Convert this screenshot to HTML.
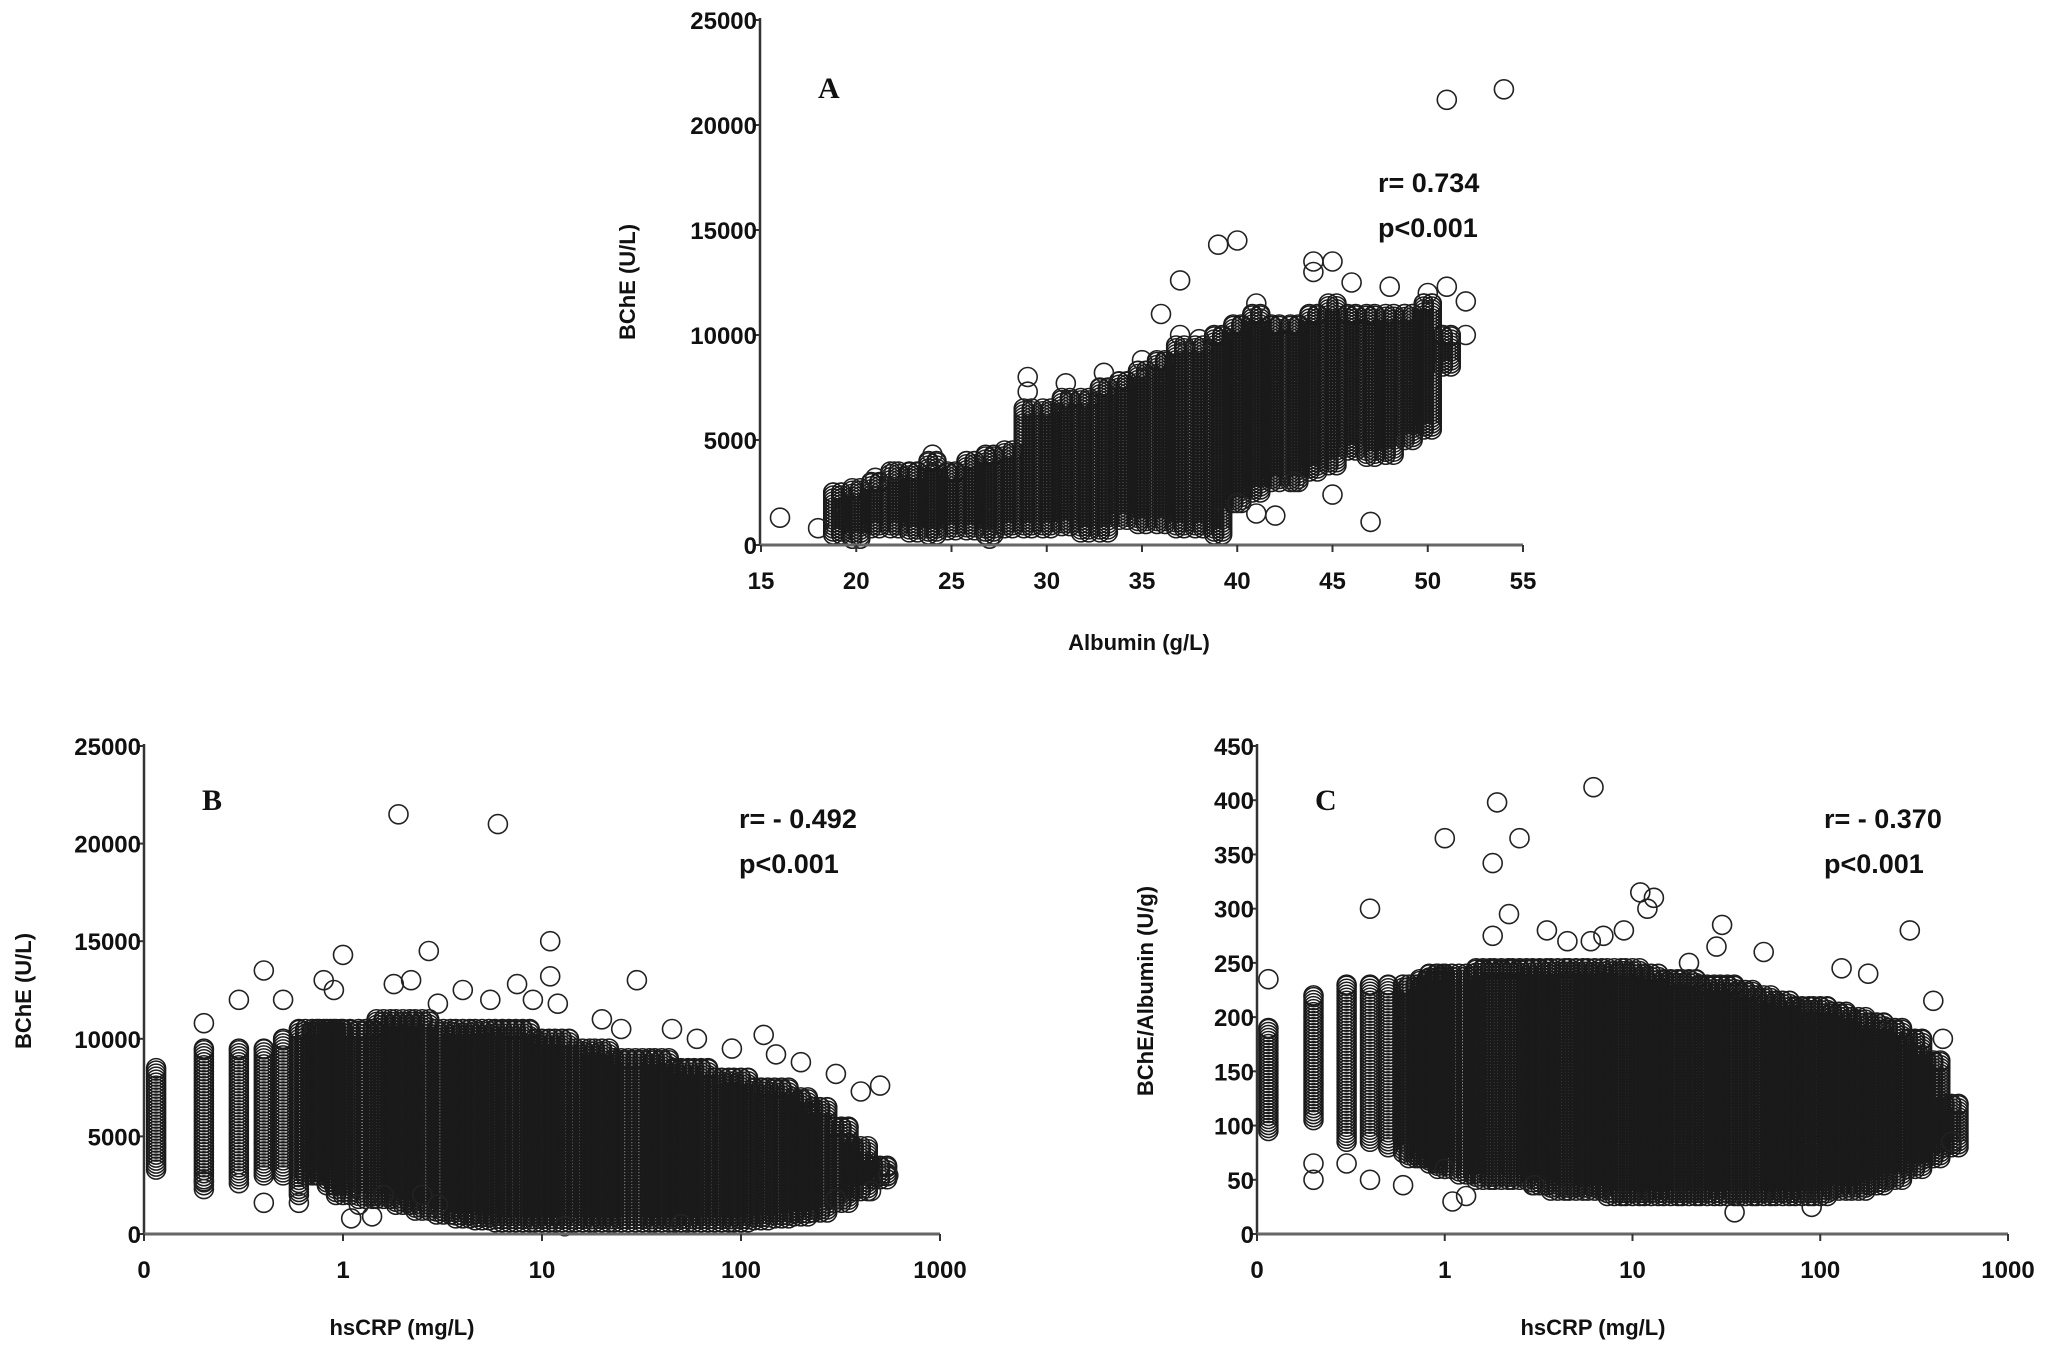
<!DOCTYPE html>
<html><head><meta charset="utf-8">
<style>
html,body{margin:0;padding:0;background:#fff;}
svg{display:block;}
.tk{font-family:"Liberation Sans Narrow","Liberation Sans",sans-serif;font-weight:bold;font-size:24px;fill:#111;}
.ti{font-family:"Liberation Sans",sans-serif;font-weight:bold;font-size:22px;fill:#111;}
.st{font-family:"Liberation Sans Narrow","Liberation Sans",sans-serif;font-weight:bold;font-size:27px;fill:#111;}
.pl{font-family:"Liberation Serif",serif;font-weight:bold;font-size:30px;fill:#111;}
</style></head>
<body>
<svg id="fig" width="2058" height="1348" viewBox="0 0 2058 1348" xmlns="http://www.w3.org/2000/svg">
<g id="marks"></g>
<g id="axes"></g>
</svg>
<script>
// ---- Panel A data: albumin bins with BChE min/max ----
const aX   = [19,20,21,22,23,24,25,26,27,28,29,30,31,32,33,34,35,36,37,38,39,40,41,42,43,44,45,46,47,48,49,50,51];
const aMin = [500,300,800,800,600,500,700,700,500,800,800,800,900,600,600,1200,1000,1000,800,800,500,2000,2500,3000,3000,3500,3800,4500,4200,4300,5000,5500,8500];
const aMax = [2500,2700,3000,3500,3500,4000,3500,4000,4300,4500,6500,6500,7000,7000,7500,7800,8300,8800,9500,9500,10000,10500,11000,10500,10500,11000,11500,11000,11000,11000,11000,11500,10000];
const aOutX = [16,18,51,54,39,40,37,36,47,45,42,52,52,27,29,29,31,33,35,37,38,41,44,44,45,46,48,50,51,21,22,24,40,41,43];
const aOutY = [1300,800,21200,21700,14300,14500,12600,11000,1100,2400,1400,11600,10000,300,8000,7300,7700,8200,8800,10000,9800,11500,13500,13000,13500,12500,12300,12000,12300,3200,3500,4300,2000,1500,3000];
const aXTicks = [15,20,25,30,35,40,45,50,55];
const aYTicks = [0,5000,10000,15000,20000,25000];

// ---- Panel B data: hsCRP bins with BChE min/max ----
const bX   = [0.115,0.2,0.3,0.4,0.5,0.6,0.7,0.8,0.9,1.0,1.3,1.6,2,2.5,3.2,4,5,6.3,8,10,12.6,16,20,25,32,40,50,63,80,100,126,160,200,250,320,400,500];
const bMin = [3300,2500,2800,3000,3000,2000,3000,3000,2500,2000,1800,1800,1500,1200,1000,800,700,600,600,600,600,600,600,600,600,600,600,600,600,600,700,800,900,1100,1600,2200,2800];
const bMax = [8500,9500,9500,9500,10000,10500,10500,10500,10500,10500,10500,11000,11000,11000,10500,10500,10500,10500,10500,10000,10000,9500,9500,9000,9000,9000,8500,8500,8000,8000,7500,7500,7000,6500,5500,4500,3500];
const bOutX = [1.9,6,11,2.7,1,0.4,30,11,130,500,300,200,1.1,1.4,0.2,0.2,0.3,0.4,0.5,0.6,0.8,0.9,1.8,2.2,3,4,5.5,7.5,9,12,20,25,45,60,90,150,400,450,550,0.2,0.3,1.2,1.6,2.5,3,13,50,300];
const bOutY = [21500,21000,15000,14500,14300,13500,13000,13200,10200,7600,8200,8800,800,900,10800,2300,12000,1600,12000,1600,13000,12500,12800,13000,11800,12500,12000,12800,12000,11800,11000,10500,10500,10000,9500,9200,7300,2200,3000,2700,2600,1500,2000,2000,1500,400,500,1800];
const bXTicks = [0.1,1,10,100,1000];
const bXLabels = ["0","1","10","100","1000"];
const bYTicks = [0,5000,10000,15000,20000,25000];

// ---- Panel C data: hsCRP bins with BChE/Albumin min/max ----
const cX   = [0.115,0.2,0.3,0.4,0.5,0.6,0.7,0.8,0.9,1,1.3,1.6,2,2.5,3.2,4,5,6.3,8,10,12.6,16,20,25,32,40,50,63,80,100,126,160,200,250,320,400,500];
const cMin = [95,105,85,85,80,75,70,70,65,60,55,50,50,50,45,40,40,40,35,35,35,35,35,35,35,35,35,35,35,35,40,40,45,50,60,70,80];
const cMax = [190,220,230,230,230,230,230,235,240,240,240,245,245,245,245,245,245,245,245,245,240,235,235,230,230,225,220,215,210,210,205,200,195,190,180,160,120];
const cOutX = [6.2,1.9,1,2.5,1.8,11,0.4,300,13,30,0.115,0.2,0.2,0.3,0.4,0.6,1,1.1,1.3,3,4.5,7,9,12,28,50,130,180,400,450,500,1.8,2.2,3.5,6,20,35,90];
const cOutY = [412,398,365,365,342,315,300,280,310,285,235,65,50,65,50,45,60,30,35,45,270,275,280,300,265,260,245,240,215,180,85,275,295,280,270,250,20,25];
const cXTicks = [0.1,1,10,100,1000];
const cXLabels = ["0","1","10","100","1000"];
const cYTicks = [0,50,100,150,200,250,300,350,400,450];

const NS = "http://www.w3.org/2000/svg";
const marks = document.getElementById('marks');
const axes = document.getElementById('axes');
function mk(tag, attrs, parent){const e=document.createElementNS(NS,tag);for(const k in attrs)e.setAttribute(k,attrs[k]);parent.appendChild(e);return e;}

function linX(x0,x1,p0,p1){return v=>p0+(v-x0)/(x1-x0)*(p1-p0);}
function logX(x0,x1,p0,p1){return v=>p0+(Math.log10(v)-Math.log10(x0))/(Math.log10(x1)-Math.log10(x0))*(p1-p0);}

function drawPanel(cfg){
  const {id,sx,sy,bins,mins,maxs,ox,oy,xt,xl,yt,ax0,ax1,ay0,ay1,colOff,discreteBelow} = cfg;
  const g = mk('g',{},marks);
  
  
  for(let i=0;i<bins.length;i++){
    const x = sx(bins[i]);
    const yTop = sy(maxs[i]), yBot = sy(mins[i]);
    const offs = (discreteBelow && bins[i] < discreteBelow) ? [0] : colOff;
    for(const off of offs){
      for(let y=yBot; y>=yTop; y-=3){
        mk('circle',{cx:(x+off).toFixed(1),cy:y.toFixed(1),r:9.5,fill:'none',stroke:'#1a1a1a','stroke-width':1.5},g);
      }
      mk('circle',{cx:(x+off).toFixed(1),cy:yTop.toFixed(1),r:9.5,fill:'none',stroke:'#1a1a1a','stroke-width':1.5},g);
    }
  }
  for(let i=0;i<ox.length;i++){
    const c = mk('circle',{cx:sx(ox[i]).toFixed(1),cy:sy(oy[i]).toFixed(1),r:9.5,fill:'none',stroke:'#222','stroke-width':1.6},g);
    
    
  }
  const ag = mk('g',{},axes);
  
  
  const yl = mk('line',{x1:ax0,y1:ay0,x2:ax0,y2:ay1,stroke:'#333','stroke-width':2.5},ag);
  
  
  const xlL = mk('line',{x1:ax0,y1:ay0,x2:ax1,y2:ay0,stroke:'#666','stroke-width':3},ag);
  
  
  xt.forEach((v,i)=>{
    const x = sx(v);
    mk('line',{x1:x,y1:ay0,x2:x,y2:ay0+7,stroke:'#333','stroke-width':2},ag);
    const t = mk('text',{x:x,y:ay0+44,'text-anchor':'middle',class:'tk'},ag);
    t.textContent = xl ? xl[i] : String(v);
    
    
  });
  yt.forEach(v=>{
    const y = sy(v);
    mk('line',{x1:ax0-6,y1:y,x2:ax0,y2:y,stroke:'#333','stroke-width':2},ag);
    const t = mk('text',{x:ax0-3,y:y+9,'text-anchor':'end',class:'tk'},ag);
    t.textContent = String(v);
    
    
  });
}

const sxA = linX(15,55,761,1523), syA = linX(0,25000,545,20);
drawPanel({id:'panel-a',sx:sxA,sy:syA,bins:aX,mins:aMin,maxs:aMax,ox:aOutX,oy:aOutY,xt:aXTicks,xl:null,yt:aYTicks,ax0:760,ax1:1523,ay0:545,ay1:18,colOff:[-4,4]});
const sxB = logX(0.1,1000,144,940), syB = linX(0,25000,1234,746);
drawPanel({id:'panel-b',sx:sxB,sy:syB,bins:bX,mins:bMin,maxs:bMax,ox:bOutX,oy:bOutY,xt:bXTicks,xl:bXLabels,yt:bYTicks,ax0:144,ax1:940,ay0:1234,ay1:744,colOff:[-7,0,7],discreteBelow:0.65});
const sxC = logX(0.1,1000,1257,2008), syC = linX(0,450,1234,746);
drawPanel({id:'panel-c',sx:sxC,sy:syC,bins:cX,mins:cMin,maxs:cMax,ox:cOutX,oy:cOutY,xt:cXTicks,xl:cXLabels,yt:cYTicks,ax0:1257,ax1:2008,ay0:1234,ay1:744,colOff:[-7,0,7],discreteBelow:0.65});
</script>
<svg style="position:absolute;left:0;top:0" width="2058" height="1348">
<text class="pl" x="818" y="98">A</text>
<text class="st" x="1378" y="192">r= 0.734</text>
<text class="st" x="1378" y="237">p&lt;0.001</text>
<text class="ti" x="0" y="0" text-anchor="middle" transform="translate(635,282) rotate(-90)">BChE (U/L)</text>
<text class="ti" x="1139" y="650" text-anchor="middle">Albumin (g/L)</text>

<text class="pl" x="202" y="810">B</text>
<text class="st" x="739" y="828">r= - 0.492</text>
<text class="st" x="739" y="873">p&lt;0.001</text>
<text class="ti" x="0" y="0" text-anchor="middle" transform="translate(31,991) rotate(-90)">BChE (U/L)</text>
<text class="ti" x="402" y="1335" text-anchor="middle">hsCRP (mg/L)</text>

<text class="pl" x="1315" y="810">C</text>
<text class="st" x="1824" y="828">r= - 0.370</text>
<text class="st" x="1824" y="873">p&lt;0.001</text>
<text class="ti" x="0" y="0" text-anchor="middle" transform="translate(1153,991) rotate(-90)">BChE/Albumin (U/g)</text>
<text class="ti" x="1593" y="1335" text-anchor="middle">hsCRP (mg/L)</text>
</svg>
</body></html>
